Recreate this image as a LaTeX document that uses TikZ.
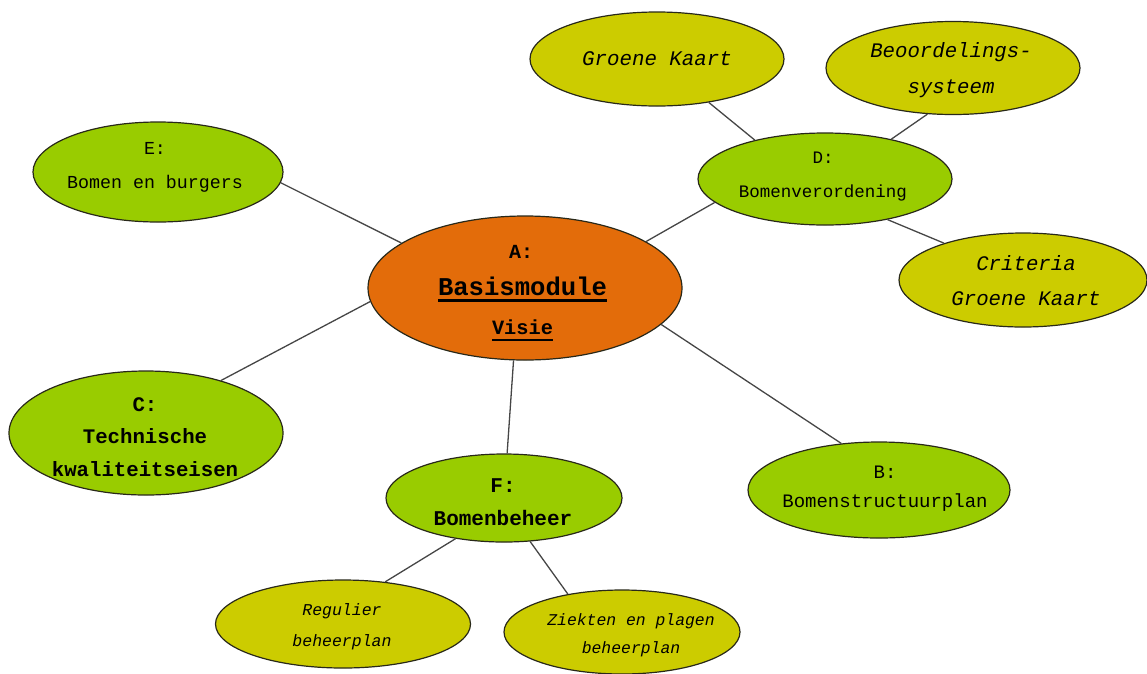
\documentclass[tikz,border=0pt]{standalone}
\usepackage{fontspec}
\setmonofont{Liberation Mono}
\usepackage{tikz}
\usepackage{xcolor}
\usetikzlibrary{shapes, calc, positioning}
\definecolor{moduleorange}{RGB}{227, 108, 10}
\definecolor{modulegreen}{RGB}{153, 204, 0}
\definecolor{subyellow}{RGB}{204, 204, 0}
\definecolor{outline}{RGB}{40, 40, 25}
\definecolor{edgegrey}{RGB}{70, 70, 70}
\newcommand{\ulbox}[3]{\vtop{\hbox{#3}\kern#1\hrule height #2\relax}}

\begin{document}
\begin{tikzpicture}[x=1pt, y=-1pt]
        \useasboundingbox (0,0) rectangle (1147,673);

        \tikzstyle{m} = [draw=outline, line width=1.2pt, ellipse, inner sep=0pt];
        \tikzstyle{t} = [align=center, inner sep=0pt, text=black];

        \node [m, fill=moduleorange, minimum width=314pt, minimum height=144pt] (A) at (525,288) { };

        \node [m, fill=modulegreen, minimum width=262pt, minimum height=96pt]  (B) at ($(A) + ( 354,  202)$) { };
        \node [m, fill=modulegreen, minimum width=274pt, minimum height=124pt] (C) at ($(A) + (-379,  145)$) { };
        \node [m, fill=modulegreen, minimum width=254pt, minimum height=92pt]  (D) at ($(A) + ( 300, -109)$) { };
        \node [m, fill=modulegreen, minimum width=250pt, minimum height=100pt] (E) at ($(A) + (-367, -116)$) { };
        \node [m, fill=modulegreen, minimum width=236pt, minimum height=88pt]  (F) at ($(A) + ( -21,  210)$) { };

        \node [m, fill=subyellow, minimum width=254pt, minimum height=94pt] (D1) at ($(D) + (-168, -120)$) { };
        \node [m, fill=subyellow, minimum width=254pt, minimum height=93pt] (D2) at ($(D) + ( 128, -111)$) { };
        \node [m, fill=subyellow, minimum width=248pt, minimum height=94pt] (D3) at ($(D) + ( 198,  101)$) { };
        \node [m, fill=subyellow, minimum width=255pt, minimum height=88pt] (F1) at ($(F) + (-161,  126)$) { };
        \node [m, fill=subyellow, minimum width=236pt, minimum height=84pt] (F2) at ($(F) + ( 118,  134)$) { };

        % texts
        \node [t, anchor=base, font=\ttfamily\bfseries\fontsize{20}{20}\selectfont] (Akey) at ($(A) + (-4, -30)$) {A:};
        \node [t, anchor=base, font=\ttfamily\bfseries\fontsize{25.6}{26}\selectfont] (Aname) at ($(A) + (-2.5, 7)$) {\ulbox{4pt}{3pt}{Basismodule}};
        \node [t, anchor=base, font=\ttfamily\bfseries\fontsize{20.3}{21}\selectfont] (Avision) at ($(A) + (-2.5, 46)$) {\ulbox{5pt}{2pt}{Visie}};

        \node [t, font=\ttfamily\fontsize{19}{29}\selectfont] (Btext) at ($(B) + (6, -1)$) {B:\\Bomenstructuurplan};
        \node [t, font=\ttfamily\bfseries\fontsize{20.7}{32.5}\selectfont] (Ctext) at ($(C) + (-1, 4)$) {C:\\Technische\\kwaliteitseisen};
        \node [t, font=\ttfamily\fontsize{17.5}{34}\selectfont] (Dtext) at ($(D) + (-2, -2)$) {D:\\Bomenverordening};
        \node [t, font=\ttfamily\fontsize{18.3}{34}\selectfont] (Etext) at ($(E) + (-3, -5)$) {E:\\Bomen en burgers};
        \node [t, font=\ttfamily\bfseries\fontsize{21}{33}\selectfont] (Ftext) at ($(F) + (-1, 4)$) {F:\\Bomenbeheer};

        \node [t, font=\ttfamily\itshape\fontsize{20.8}{35}\selectfont] (D1text) at ($(D1) + (0, 0)$) {Groene Kaart};
        \node [t, font=\ttfamily\itshape\fontsize{20.7}{36}\selectfont] (D2text) at ($(D2) + (-2, 2)$) {Beoordelings-\\systeem};
        \node [t, font=\ttfamily\itshape\fontsize{20.7}{35}\selectfont] (D3text) at ($(D3) + (3, 1)$) {Criteria\\Groene Kaart};
        \node [t, font=\ttfamily\itshape\fontsize{16.5}{31}\selectfont] (F1text) at ($(F1) + (-1, 3)$) {Regulier\\beheerplan};
        \node [t, font=\ttfamily\itshape\fontsize{16.4}{28}\selectfont] (F2text) at ($(F2) + (9, 3)$) {Ziekten en plagen\\beheerplan};

        % links
        \foreach \a/\b in {E.-5/A.160, A.21/D.192, D.151/D1.-40, D.31/D2.241, D.-33/D3.155,
                           A.185/C.35, A.-15/B.129, A.261/F.86, F.220/F1.45, F.-59/F2.145}{
            \draw [draw=edgegrey, line width=1.3pt] (\a) -- (\b);
        }
    \end{tikzpicture}
\end{document}
